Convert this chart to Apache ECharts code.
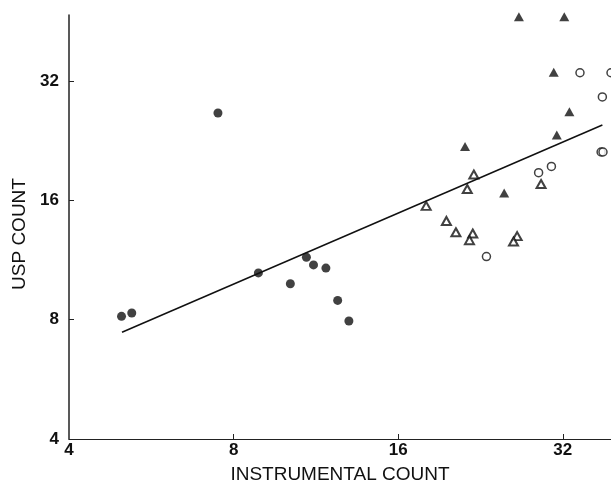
<!DOCTYPE html>
<html>
<head>
<meta charset="utf-8">
<script src="https://cdn.jsdelivr.net/npm/echarts@6/dist/echarts.min.js"></script>
<style>
  html, body { margin: 0; padding: 0; background: #fff; }
  #chart { width: 611px; height: 489px; }
</style>
</head>
<body>
<div id="chart"></div>
<script>
// values (base 2 axes)
const tickValues = [4, 8, 16, 32];

const filledCircleX = [4.99, 5.21, 7.49, 8.88, 10.16, 10.87, 11.2, 11.8, 12.4, 13.0];
const filledCircleY = [8.16, 8.32, 26.6, 10.5, 9.86, 11.5, 11.0, 10.8, 8.95, 7.94];

const filledTriangleX = [26.6, 32.2, 30.8, 32.9, 31.2, 21.2, 25.0];
const filledTriangleY = [46.5, 46.5, 33.7, 26.8, 23.4, 21.9, 16.7];

const openCircleX = [34.4, 39.2, 37.8, 37.6, 37.9, 30.5, 28.9, 23.2];
const openCircleY = [33.6, 33.6, 29.2, 21.2, 21.2, 19.5, 18.8, 11.55];

const openTriangleX = [22.0, 21.4, 18.0, 29.2, 19.6, 20.4, 21.9, 21.6, 26.4, 26.0];
const openTriangleY = [18.6, 17.1, 15.5, 17.6, 14.2, 13.3, 13.2, 12.7, 13.0, 12.6];

// fitted line end points
const fitX = [5.0, 37.8];
const fitY = [7.44, 24.8];

const pairs = (xs, ys) => xs.map((x, i) => [x, ys[i]]);

const font = 'Liberation Sans, Arial, sans-serif';

const option = {
    animation: false,
    backgroundColor: '#fff',
    grid: {
        left: 69,
        right: 0,
        top: 15,
        bottom: 45,
    },
    xAxis: {
        type: 'log',
        logBase: 2,
        min: 4,
        max: 39.2,
        name: 'INSTRUMENTAL COUNT',
        nameLocation: 'middle',
        nameGap: 26,
        nameTextStyle: { color: '#111', fontFamily: font, fontSize: 19 },
        axisLine: { lineStyle: { color: '#222', width: 1.2 } },
        axisTick: {
            inside: true,
            length: 5,
            customValues: [8, 16, 32],
            lineStyle: { color: '#222' },
        },
        axisLabel: {
            customValues: tickValues,
            margin: 3,
            color: '#111',
            fontFamily: font,
            fontWeight: 'bold',
            fontSize: 17,
        },
        splitLine: { show: false },
    },
    yAxis: {
        type: 'log',
        logBase: 2,
        min: 4,
        max: 47,
        name: 'USP COUNT',
        nameLocation: 'middle',
        nameGap: 38,
        nameRotate: 90,
        nameTextStyle: {
            color: '#111', fontFamily: font, fontSize: 19,
            padding: [0, 14, 0, 0],
        },
        axisLine: { lineStyle: { color: '#222', width: 1.5 } },
        axisTick: {
            inside: true,
            length: 5,
            customValues: [8, 16, 32],
            lineStyle: { color: '#222' },
        },
        axisLabel: {
            customValues: tickValues,
            margin: 10,
            color: '#111',
            fontFamily: font,
            fontWeight: 'bold',
            fontSize: 17,
        },
        splitLine: { show: false },
    },
    series: [
        {
            type: 'line',
            data: pairs(fitX, fitY),
            symbol: 'none',
            lineStyle: { color: '#111', width: 1.5 },
            silent: true,
        },
        {
            type: 'scatter',
            data: pairs(filledCircleX, filledCircleY),
            symbol: 'circle',
            symbolSize: 9,
            clip: false,
            itemStyle: { color: '#111' },
        },
        {
            type: 'scatter',
            data: pairs(filledTriangleX, filledTriangleY),
            symbol: 'triangle',
            symbolSize: [10, 9],
            clip: false,
            itemStyle: { color: '#111' },
        },
        {
            type: 'scatter',
            data: pairs(openCircleX, openCircleY),
            symbol: 'circle',
            symbolSize: 8,
            clip: false,
            itemStyle: { color: '#fff', borderColor: '#111', borderWidth: 1.5 },
        },
        {
            type: 'scatter',
            data: pairs(openTriangleX, openTriangleY),
            symbol: 'triangle',
            symbolSize: [9, 8],
            clip: false,
            itemStyle: { color: '#fff', borderColor: '#111', borderWidth: 2 },
        },
    ],
};

const chart = echarts.init(document.getElementById('chart'));
chart.setOption(option);
</script>
</body>
</html>
